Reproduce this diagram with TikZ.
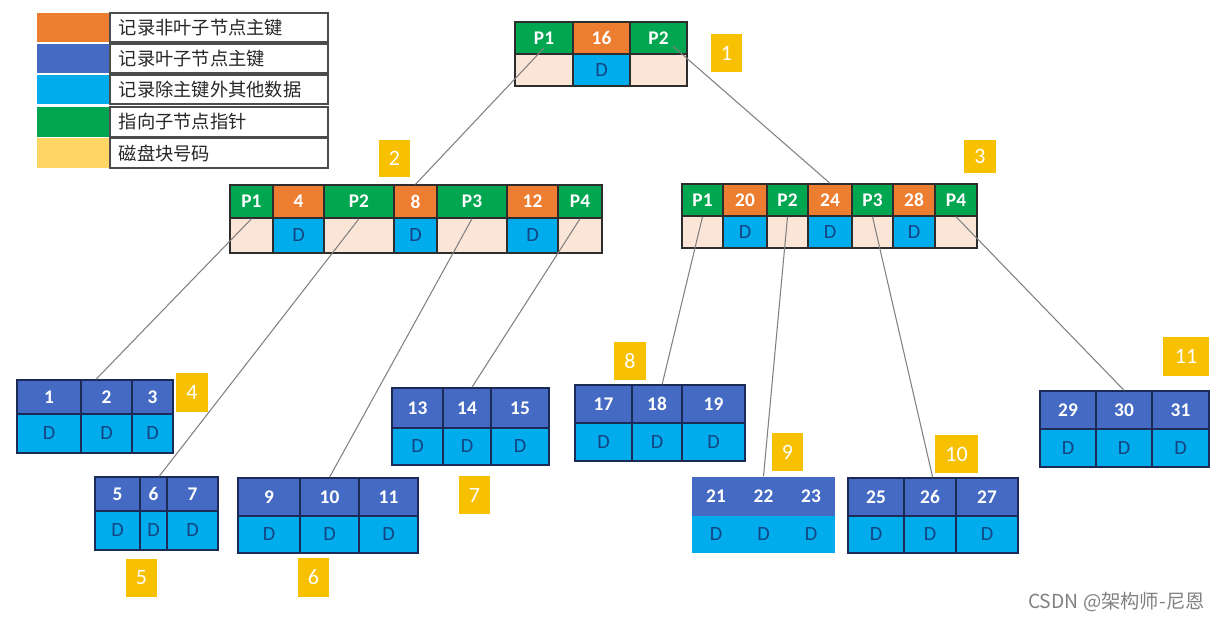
\documentclass[tikz,border=0pt]{standalone}
\usepackage{fontspec}
\setmainfont{Carlito}
\newfontfamily\cjk{Noto Sans CJK SC}
\usetikzlibrary{fit,calc}

\definecolor{ptrgreen}{RGB}{0,166,80}
\definecolor{keyorange}{RGB}{237,125,49}
\definecolor{leafblue}{RGB}{68,106,196}
\definecolor{datblue}{RGB}{0,172,236}
\definecolor{nilpink}{RGB}{251,229,214}
\definecolor{badgegold}{RGB}{247,192,0}
\definecolor{legendgold}{RGB}{255,214,102}
\definecolor{dtext}{RGB}{20,68,130}
\definecolor{edge}{RGB}{45,45,45}
\definecolor{leafedge}{RGB}{28,42,88}

\tikzset{
  cell/.style={draw=edge,line width=0.8pt,inner sep=0pt},
  ptr/.style={cell,fill=ptrgreen},
  key/.style={cell,fill=keyorange},
  nil/.style={cell,fill=nilpink},
  dat/.style={cell,fill=datblue},
  lkey/.style={cell,draw=leafedge,fill=leafblue},
  ldat/.style={dat,draw=leafedge},
  edged/.style={},
  bare/.style={draw=none},
  celltxt/.style={text=white,inner sep=0pt,font=\fontsize{11}{13}\selectfont\bfseries},
  dtxt/.style={text=dtext,inner sep=0pt,font=\fontsize{11.5}{13}\selectfont},
  badge/.style={fill=badgegold,inner sep=0pt},
  badgetxt/.style={text=white,inner sep=0pt,font=\fontsize{12.5}{14}\selectfont},
  swatch/.style={inner sep=0pt},
  legbox/.style={draw=black!70,line width=0.7pt,inner sep=0pt},
  legtext/.style={anchor=west,inner sep=0pt,font=\cjk\fontsize{10.4}{12}\selectfont,text=black!85},
  link/.style={draw=black!50,line width=0.6pt},
}

\begin{document}
\begin{tikzpicture}[x=0.02cm,y=-0.02cm]
\useasboundingbox (0,0) rectangle (1222,622);

% legend
\foreach \i/\c/\ya/\yb/\t in {1/keyorange/13/42/记录非叶子节点主键,
    2/leafblue/44/73/记录叶子节点主键, 3/datblue/75/104/记录除主键外其他数据,
    4/ptrgreen/107/137/指向子节点指针, 5/legendgold/138/168/磁盘块号码}
{
  \node[swatch,fill=\c,fit={(37,\ya)(110,\yb)}] (lg-\i) {};
  \node[legbox,fit={(110,\ya)(328,\yb)}] (lb-\i) {};
  \node[legtext] (lt-\i) at ([xshift=0.18cm]lb-\i.west) {\t};
}

% root block
\foreach \n/\xa/\xb/\s/\t/\u/\v in {p1/515/573/ptr/P1/nil/{},
    k1/573/630/key/16/dat/D, p2/630/687/ptr/P2/nil/{}}
{
  \node[\s,fit={(\xa,22)(\xb,54)},label={[celltxt]center:\t}] (r-\n) {};
  \node[\u,fit={(\xa,54)(\xb,86)},label={[dtxt]center:\v}] (r-\n-d) {};
}

% second level, left
\foreach \n/\xa/\xb/\s/\t/\u/\v in {p1/230/273/ptr/P1/nil/{},
    k1/273/324/key/4/dat/D, p2/324/394/ptr/P2/nil/{},
    k2/394/437/key/8/dat/D, p3/437/507/ptr/P3/nil/{},
    k3/507/558/key/12/dat/D, p4/558/602/ptr/P4/nil/{}}
{
  \node[\s,fit={(\xa,185)(\xb,218)},label={[celltxt]center:\t}] (b-\n) {};
  \node[\u,fit={(\xa,218)(\xb,253)},label={[dtxt]center:\v}] (b-\n-d) {};
}

% second level, right
\foreach \n/\xa/\xb/\s/\t/\u/\v in {p1/682/723/ptr/P1/nil/{},
    k1/723/767/key/20/dat/D, p2/767/808/ptr/P2/nil/{},
    k2/808/852/key/24/dat/D, p3/852/893/ptr/P3/nil/{},
    k3/893/935/key/28/dat/D, p4/935/977/ptr/P4/nil/{}}
{
  \node[\s,fit={(\xa,184)(\xb,216)},label={[celltxt]center:\t}] (c-\n) {};
  \node[\u,fit={(\xa,216)(\xb,248)},label={[dtxt]center:\v}] (c-\n-d) {};
}

% leaves
\foreach \n/\xa/\xb/\xc/\xd/\ya/\yb/\yc/\ka/\kb/\kc/\e in {
    4/17/81/132/173/380/414/453/1/2/3/edged,
    5/95/140/167/218/477/511/550/5/6/7/edged,
    6/238/300/359/418/478/516/553/9/10/11/edged,
    7/392/443/491/549/388/428/465/13/14/15/edged,
    8/575/632/682/745/385/423/461/17/18/19/edged,
    9/692/740/787/835/477/516/553/21/22/23/bare,
    10/848/904/956/1018/478/516/553/25/26/27/edged,
    11/1040/1096/1152/1209/391/429/467/29/30/31/edged}
{
  \node[lkey,\e,fit={(\xa,\ya)(\xb,\yb)},label={[celltxt]center:\ka}] (l\n-1) {};
  \node[lkey,\e,fit={(\xb,\ya)(\xc,\yb)},label={[celltxt]center:\kb}] (l\n-2) {};
  \node[lkey,\e,fit={(\xc,\ya)(\xd,\yb)},label={[celltxt]center:\kc}] (l\n-3) {};
  \node[ldat,\e,fit={(\xa,\yb)(\xb,\yc)},label={[dtxt]center:D}] (l\n-1-d) {};
  \node[ldat,\e,fit={(\xb,\yb)(\xc,\yc)},label={[dtxt]center:D}] (l\n-2-d) {};
  \node[ldat,\e,fit={(\xc,\yb)(\xd,\yc)},label={[dtxt]center:D}] (l\n-3-d) {};
}

% disk block numbers
\foreach \i/\xa/\ya/\xb/\yb in {1/711/34/742/72, 2/379/140/410/177,
    3/964/140/996/173, 4/176/373/208/412, 5/126/559/157/597,
    6/298/558/329/597, 7/459/476/490/514, 8/614/342/646/380,
    9/772/433/803/471, 10/935/435/978/473, 11/1163/337/1209/376}
  \node[badge,fit={(\xa,\ya)(\xb,\yb)},label={[badgetxt]center:\i}] (bd-\i) {};

% pointers
\draw[link] ($(r-p1.center)!.6!(r-p1.south)$) -- (b-k2.north);
\draw[link] ($(r-p2.center)!.5!(r-p2.south east)$) -- (c-k2.north);
\draw[link] (b-p1.south) -- ($(l4-2.north west)!.3!(l4-2.north east)$);
\draw[link] (b-p2.south) -- ($(l5-2.north west)!.7!(l5-2.north east)$);
\draw[link] (b-p3.south) -- (l6-2.north);
\draw[link] (b-p4.south) -- ($(l7-2.north west)!.6!(l7-2.north east)$);
\draw[link] (c-p1.south) -- ($(l8-2.north west)!.6!(l8-2.north east)$);
\draw[link] (c-p2.south) -- (l9-2.north);
\draw[link] (c-p3.south) -- ($(l10-2.north west)!.55!(l10-2.north east)$);
\draw[link] (c-p4.south) -- (l11-2.north);

\node[anchor=east,inner sep=0pt,text=black!50,font=\cjk\fontsize{11}{13}\selectfont]
  (wm) at (1205,602) {CSDN @架构师-尼恩};
\end{tikzpicture}
\end{document}
